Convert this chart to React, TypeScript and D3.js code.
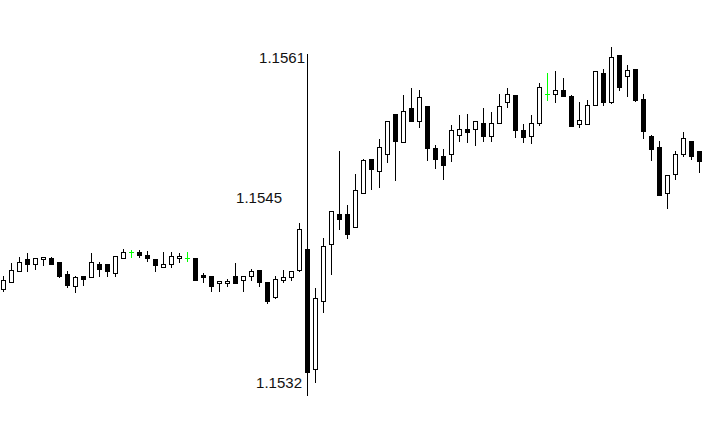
import React from "react";
import * as d3 from "d3";

const opens = [
  1.15408, 1.15414, 1.15423, 1.15433, 1.15429, 1.15433, 1.15434, 1.15431, 1.15421, 1.15411,
  1.15419, 1.15418, 1.15429, 1.15429, 1.15422, 1.15434, 1.15439, 1.15439, 1.15437, 1.15433,
  1.15427, 1.15429, 1.15434, 1.15434, 1.15434, 1.1542, 1.15419, 1.15413, 1.15413, 1.15419,
  1.15416, 1.15419, 1.15424, 1.15414, 1.15402, 1.15416, 1.15418, 1.15424, 1.15442, 1.15342,
  1.15398, 1.15446, 1.15471, 1.15471, 1.1546, 1.15488, 1.15517, 1.15507, 1.15521, 1.15554,
  1.15531, 1.15559, 1.15548, 1.15561, 1.15526, 1.15519, 1.15521, 1.15537, 1.15542, 1.15542,
  1.15547, 1.15536, 1.15547, 1.15564, 1.1557, 1.15541, 1.15536, 1.15547, 1.15571, 1.15571,
  1.15574, 1.15569, 1.15546, 1.15546, 1.15562, 1.15588, 1.15564, 1.15603, 1.15586, 1.15592,
  1.15567, 1.15536, 1.15527, 1.15488, 1.15504, 1.15521, 1.15532, 1.15523,
];
const highs = [
  1.15419, 1.1543, 1.15435, 1.15438, 1.15434, 1.15435, 1.15435, 1.15431, 1.15423, 1.15419,
  1.15419, 1.15438, 1.15431, 1.15429, 1.15436, 1.15442, 1.15441, 1.15441, 1.1544, 1.15433,
  1.15439, 1.15439, 1.15438, 1.15439, 1.15434, 1.15422, 1.15419, 1.15415, 1.15417, 1.1543,
  1.15419, 1.15425, 1.15424, 1.15414, 1.15419, 1.15424, 1.15423, 1.15463, 1.15442, 1.15409,
  1.15451, 1.15473, 1.15523, 1.15478, 1.15504, 1.15517, 1.15517, 1.15533, 1.15548, 1.15554,
  1.1557, 1.15576, 1.15574, 1.15561, 1.15528, 1.15525, 1.15545, 1.15553, 1.15554, 1.15548,
  1.15559, 1.15556, 1.15571, 1.15576, 1.1557, 1.15546, 1.15553, 1.1558, 1.15588, 1.1559,
  1.15584, 1.1557, 1.15564, 1.15566, 1.1559, 1.15592, 1.1561, 1.15603, 1.15595, 1.15592,
  1.15571, 1.15537, 1.15532, 1.15503, 1.15523, 1.15539, 1.15532, 1.15523,
];
const lows = [
  1.15407, 1.15414, 1.15423, 1.15423, 1.15425, 1.15428, 1.15429, 1.15418, 1.1541, 1.15406,
  1.15412, 1.15418, 1.15419, 1.15419, 1.15419, 1.15434, 1.15435, 1.15435, 1.15432, 1.15423,
  1.15427, 1.15427, 1.15431, 1.15432, 1.15416, 1.15414, 1.15407, 1.15407, 1.15411, 1.15413,
  1.15407, 1.15416, 1.15411, 1.15397, 1.15401, 1.15414, 1.15416, 1.15423, 1.15339, 1.15331,
  1.15389, 1.15421, 1.15458, 1.15451, 1.1546, 1.15488, 1.15492, 1.15493, 1.15514, 1.15499,
  1.15531, 1.15548, 1.15543, 1.15516, 1.15509, 1.155, 1.15515, 1.15532, 1.15531, 1.15528,
  1.15532, 1.15532, 1.15547, 1.1556, 1.15535, 1.15531, 1.1553, 1.15545, 1.15566, 1.15564,
  1.15569, 1.15544, 1.15543, 1.15546, 1.15562, 1.15562, 1.15563, 1.15574, 1.15569, 1.15565,
  1.15534, 1.15516, 1.15487, 1.15476, 1.155, 1.15519, 1.15517, 1.15506,
];
const closes = [
  1.15416, 1.15424, 1.15431, 1.15429, 1.15434, 1.15435, 1.15429, 1.15419, 1.15412, 1.15418,
  1.15417, 1.15431, 1.15425, 1.15423, 1.15436, 1.15439, 1.15439, 1.15437, 1.15434, 1.15428,
  1.15429, 1.15436, 1.15436, 1.15434, 1.15416, 1.15418, 1.15411, 1.15415, 1.15415, 1.15413,
  1.15419, 1.15423, 1.15414, 1.15398, 1.15417, 1.15418, 1.15423, 1.15458, 1.15339, 1.15401,
  1.15444, 1.15473, 1.15467, 1.15454, 1.15491, 1.15516, 1.15508, 1.15527, 1.15548, 1.15532,
  1.15557, 1.15548, 1.15568, 1.15526, 1.15517, 1.15512, 1.15541, 1.15542, 1.15539, 1.15548,
  1.15536, 1.15547, 1.15561, 1.15571, 1.15541, 1.15535, 1.15547, 1.15577, 1.15571, 1.15574,
  1.15569, 1.15544, 1.15549, 1.15562, 1.1559, 1.15564, 1.15602, 1.15577, 1.15591, 1.15566,
  1.1554, 1.15525, 1.15487, 1.15503, 1.15521, 1.15534, 1.15519, 1.15515,
];

// price labels shown next to the vertical line, and the price level of each label's baseline
const tickLabels = ["1.1561", "1.1545", "1.1532"];
const tickLevels = [1.15597, 1.1548, 1.153258];
const tickRightEdges = [305, 282, 302];

const WIDTH = 702;
const HEIGHT = 444;
const AXIS_INDEX = 38;

export default function App() {
  const n = opens.length;
  const x = d3.scaleLinear().domain([0, n - 1]).range([3.5, 3.5 + 8 * (n - 1)]);
  const y = d3.scaleLinear().domain([1.1532, 1.1561]).range([395, 47]);
  const half = 2;
  const py = (v: number) => Math.round(y(v));

  const candles = d3.range(n).map((i) => {
    const o = opens[i];
    const c = closes[i];
    const h = highs[i];
    const l = lows[i];
    const xc = x(i);
    const top = py(Math.max(o, c));
    const bot = py(Math.min(o, c));
    const hi = py(h);
    const lo = py(l);
    if (o === c) {
      return (
        <g key={i} stroke="#00ff00" strokeWidth={1}>
          <line x1={xc} x2={xc} y1={hi} y2={lo + 1} />
          <line x1={xc - half - 0.5} x2={xc + half + 0.5} y1={top + 0.5} y2={top + 0.5} />
        </g>
      );
    }
    const up = c > o;
    return (
      <g key={i}>
        <line x1={xc} x2={xc} y1={hi} y2={lo + 1} stroke="#000" strokeWidth={1} />
        <rect
          x={xc - half}
          y={top + 0.5}
          width={half * 2}
          height={Math.max(bot - top, 1)}
          fill={up ? "#fff" : "#000"}
          stroke="#000"
          strokeWidth={1}
        />
      </g>
    );
  });

  const axisX = x(AXIS_INDEX);

  return (
    <svg
      width={WIDTH}
      height={HEIGHT}
      style={{ position: "absolute", left: 0, top: 0, background: "#fff" }}
      shapeRendering="crispEdges"
    >
      <rect x={0} y={0} width={WIDTH} height={HEIGHT} fill="#fff" />
      {candles}
      <line x1={axisX} x2={axisX} y1={54} y2={396} stroke="#000" strokeWidth={1} />
      {tickLabels.map((t, i) => (
        <text
          key={t}
          x={tickRightEdges[i]}
          y={y(tickLevels[i])}
          textAnchor="end"
          fontFamily="'Liberation Sans', Arial, sans-serif"
          fontSize={15}
          fill="#111"
          shapeRendering="auto"
        >
          {t}
        </text>
      ))}
    </svg>
  );
}
